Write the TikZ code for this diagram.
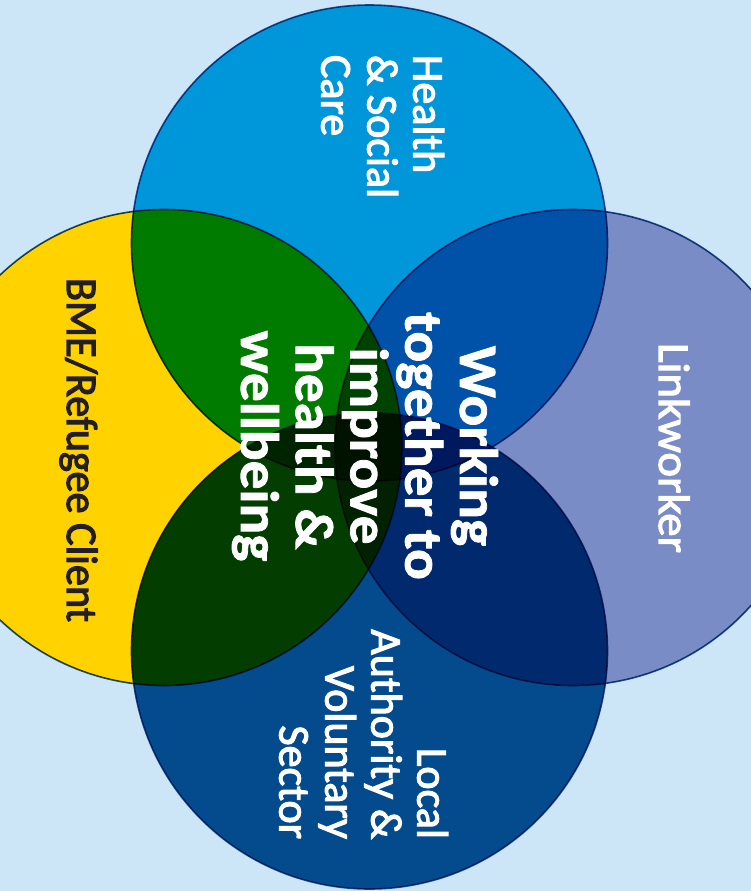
\documentclass[tikz,border=0pt]{standalone}
\usepackage{fontspec}
\setmainfont{Carlito}
\newfontfamily\lblfont{Carlito}[FakeBold=2.5]
\newfontfamily\bmefont{Carlito}[FakeBold=2.5,FakeStretch=0.96]
\newfontfamily\lwfont{Carlito}[FakeBold=2.5,FakeStretch=1.065]
\newfontfamily\hubfont{Carlito}[FakeBold=1.5,FakeStretch=1.06]
\definecolor{bgblue}{HTML}{CCE5F7}
\definecolor{ctop}{HTML}{0096DA}
\definecolor{cleft}{HTML}{FFD200}
\definecolor{cright}{HTML}{7A8CC6}
\definecolor{cbot}{HTML}{034B8D}
\definecolor{ring}{HTML}{1B4A90}
\definecolor{darktext}{HTML}{231F20}
\begin{document}
\begin{tikzpicture}[x=1pt,y=-1pt,
  venn/.style={circle, minimum size=476pt, inner sep=0pt, outer sep=0pt, draw=ring, line width=1.6pt},
  lbl/.style={rotate=-90, inner sep=0pt, outer sep=0pt, text=white, font=\lblfont\fontsize{44}{46}\selectfont},
  hub/.style={rotate=-90, inner sep=0pt, outer sep=0pt, text=white, align=center, font=\hubfont\bfseries\fontsize{54}{54.75}\selectfont}]
\fill[bgblue] (0,0) rectangle (751,891);
\useasboundingbox (0,0) rectangle (751,891);
\begin{scope}[blend group=multiply]
  \node[venn, fill=ctop] (hsc) at (369.5,243) {};
  \node[venn, fill=cleft] (bme) at (164,447.5) {};
  \node[venn, fill=cright] (lw) at (573,447.5) {};
  \node[venn, fill=cbot] (la) at (369.5,651) {};
\end{scope}
\node[lbl, align=left, anchor=north west] (hsclbl) at (444,55) {Health\\\& Social\\Care};
\node[lbl, text=darktext, font=\bmefont\fontsize{44}{46}\selectfont, anchor=base west] (bmelbl) at (67,278) {BME/Refugee Client};
\node[lbl, font=\lwfont\fontsize{44}{46}\selectfont, anchor=base west] (lwlbl) at (659,343) {Linkworker};
\node[lbl, align=right, anchor=north east] (lalbl) at (448,839) {Local\\Authority \&\\Voluntary\\Sector};
\node[hub] (core) at (365,446) {Working\\together to\\improve\\health \&\\wellbeing};
\end{tikzpicture}
\end{document}
